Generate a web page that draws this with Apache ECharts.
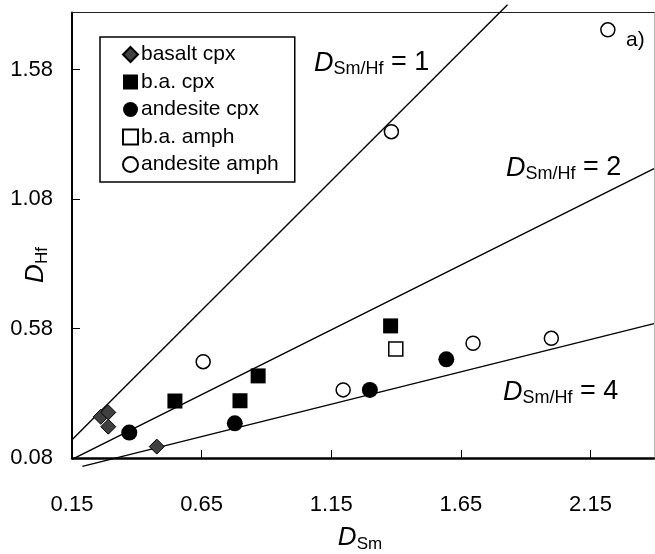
<!DOCTYPE html>
<html>
<head>
<meta charset="utf-8">
<script src="https://cdn.jsdelivr.net/npm/echarts@6/dist/echarts.min.js"></script>
<style>
  html, body { margin: 0; padding: 0; background: #fff; }
  #chart { width: 655px; height: 554px; }
</style>
</head>
<body>
<div id="chart"></div>
<script>
// Partition coefficients: D(Hf) against D(Sm) for each phase / host rock
const xTicks = [0.15, 0.65, 1.15, 1.65, 2.15];
const yTicks = [0.08, 0.58, 1.08, 1.58];

const basaltCpx = [[0.261, 0.239], [0.290, 0.256], [0.290, 0.201], [0.477, 0.124]];
const baCpx = [[0.547, 0.300], [0.798, 0.301], [0.868, 0.397], [1.379, 0.590]];
const andesiteCpx = [[0.371, 0.178], [0.778, 0.214], [1.299, 0.343], [1.594, 0.461]];
const baAmph = [[1.399, 0.501]];
const andesiteAmph = [[0.656, 0.452], [1.196, 0.343], [1.382, 1.340], [1.697, 0.523], [1.999, 0.542], [2.217, 1.733]];

// Reference lines of constant D(Sm)/D(Hf) and the D(Sm) span each one covers
const ratios = [1, 2, 4];
const ratioSpans = [[0.15, 1.83], [0.15, 2.395], [0.19, 2.395]];

const FONT = '"Liberation Sans", Arial, sans-serif';

const chart = echarts.init(document.getElementById('chart'), null, { renderer: 'canvas' });

const ratioSeries = ratios.map((r, i) => ({
  type: 'line',
  name: 'ratio' + r,
  data: ratioSpans[i].map(x => [x, x / r]),
  symbol: 'none',
  clip: false,
  silent: true,
  lineStyle: { color: '#000', width: 1.4 },
  z: 1
}));

const pointSeries = [
  { name: 'basalt cpx', data: basaltCpx, symbol: 'diamond', symbolSize: 15,
    itemStyle: { color: '#404040', borderColor: '#000', borderWidth: 1 } },
  { name: 'b.a. cpx', data: baCpx, symbol: 'rect', symbolSize: 15,
    itemStyle: { color: '#000', borderColor: '#000', borderWidth: 0 } },
  { name: 'andesite cpx', data: andesiteCpx, symbol: 'circle', symbolSize: 16,
    itemStyle: { color: '#000', borderColor: '#000', borderWidth: 0 } },
  { name: 'b.a. amph', data: baAmph, symbol: 'rect', symbolSize: 14,
    itemStyle: { color: '#fff', borderColor: '#000', borderWidth: 1.5 } },
  { name: 'andesite amph', data: andesiteAmph, symbol: 'circle', symbolSize: 14,
    itemStyle: { color: '#fff', borderColor: '#000', borderWidth: 1.5 } }
].map(s => {
  s.itemStyle.opacity = 1;
  return Object.assign({ type: 'scatter', z: 3 }, s);
});

const richLabel = (size, subSize) => ({
  d: { fontFamily: FONT, fontStyle: 'italic', fontSize: size, color: '#000', verticalAlign: 'bottom' },
  s: { fontFamily: FONT, fontSize: subSize, color: '#000', verticalAlign: 'bottom', padding: [0, 0, -2, 0] },
  t: { fontFamily: FONT, fontSize: size, color: '#000', verticalAlign: 'bottom' }
});

const ratioLabel = (x, y, r) => ({
  type: 'text',
  x: x, y: y,
  style: {
    text: '{d|D}{s|Sm/Hf}{t| = ' + r + '}',
    rich: richLabel(27, 18),
    align: 'left', verticalAlign: 'middle',
    textAlign: 'left', textVerticalAlign: 'middle'
  },
  z: 10
});

const option = {
  animation: false,
  backgroundColor: '#fff',
  grid: { left: 72, top: 12.5, width: 582, height: 445.5, containLabel: false },
  xAxis: [
    {
      type: 'value', min: 0.15, max: 2.395,
      axisLine: { show: true, onZero: false, lineStyle: { color: '#000', width: 2.5 } },
      axisTick: { show: true, inside: true, length: 8, customValues: xTicks, lineStyle: { color: '#000', width: 1 } },
      axisLabel: { customValues: xTicks, formatter: v => v.toFixed(2), margin: 36,
        fontSize: 22, color: '#000', fontFamily: FONT },
      splitLine: { show: false }
    },
    {
      type: 'value', position: 'top', min: 0.15, max: 2.395,
      axisLine: { show: true, onZero: false, lineStyle: { color: '#222', width: 1.2 } },
      axisTick: { show: false }, axisLabel: { show: false }, splitLine: { show: false }
    }
  ],
  yAxis: [
    {
      type: 'value', min: 0.08, max: 1.8,
      axisLine: { show: true, onZero: false, lineStyle: { color: '#000', width: 2 } },
      axisTick: { show: true, inside: true, length: 8, customValues: yTicks, lineStyle: { color: '#000', width: 1 } },
      axisLabel: { customValues: yTicks, formatter: v => v.toFixed(2), margin: 19,
        fontSize: 22, color: '#000', fontFamily: FONT },
      splitLine: { show: false }
    },
    {
      type: 'value', position: 'right', min: 0.08, max: 1.8,
      axisLine: { show: true, onZero: false, lineStyle: { color: '#bbb', width: 1 } },
      axisTick: { show: false }, axisLabel: { show: false }, splitLine: { show: false }
    }
  ],
  legend: {
    data: ['basalt cpx', 'b.a. cpx', 'andesite cpx', 'b.a. amph', 'andesite amph'],
    orient: 'vertical',
    left: 100, top: 37,
    padding: [7, 16, 7, 22],
    itemWidth: 15, itemHeight: 15, itemGap: 6.5,
    borderColor: '#000', borderWidth: 1.5,
    backgroundColor: '#fff',
    selectedMode: false,
    textStyle: { fontSize: 21, color: '#000', fontFamily: FONT, padding: [0, 0, 0, -2] }
  },
  graphic: [
    ratioLabel(314, 63, 1),
    ratioLabel(506, 168, 2),
    ratioLabel(503, 392, 4),
    {
      type: 'text', x: 626, y: 40,
      style: { text: 'a)', font: '21px ' + FONT, fill: '#000',
        align: 'left', verticalAlign: 'middle', textAlign: 'left', textVerticalAlign: 'middle' }
    },
    {
      type: 'text', x: 360, y: 538,
      style: { text: '{d|D}{s|Sm}', rich: richLabel(26, 17),
        align: 'center', verticalAlign: 'middle', textAlign: 'center', textVerticalAlign: 'middle' }
    },
    {
      type: 'text', x: 36, y: 265, rotation: Math.PI / 2,
      style: { text: '{d|D}{s|Hf}', rich: richLabel(26, 17),
        align: 'center', verticalAlign: 'middle', textAlign: 'center', textVerticalAlign: 'middle' }
    }
  ],
  series: ratioSeries.concat(pointSeries)
};

chart.setOption(option);
</script>
</body>
</html>
